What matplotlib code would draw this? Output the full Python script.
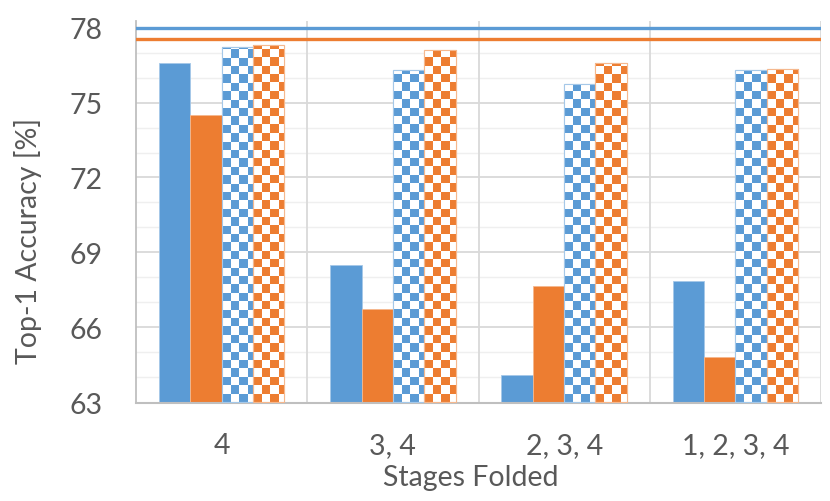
import numpy as np
import matplotlib
matplotlib.use("Agg")
import matplotlib.pyplot as plt

plt.rcParams["font.family"] = ["Lato", "DejaVu Sans"]

# data
stages = ["4", "3, 4", "2, 3, 4", "1, 2, 3, 4"]
blue_solid = [76.6, 68.5, 64.1, 67.85]
orange_solid = [74.5, 66.75, 67.65, 64.8]
blue_check = [77.2, 76.3, 75.75, 76.3]
orange_check = [77.3, 77.1, 76.6, 76.35]
blue_ref = 77.97
orange_ref = 77.55

BLUE = "#5B9BD5"
ORANGE = "#ED7D31"
TXT = "#595959"
FS = 20.5

fig = plt.figure(figsize=(8.30, 5.02), dpi=100)
ax = fig.add_axes([136 / 830, 1 - 403.5 / 502, (821 - 136) / 830, (403.5 - 22) / 502])
ymin, ymax = 63, 78.26
ax.set_xlim(-0.5, 3.5)
ax.set_ylim(ymin, ymax)

# grid
for y in range(64, 79):
    major = (y - 63) % 3 == 0
    ax.axhline(y, color="#D9D9D9" if major else "#EFEFEF", lw=1.3 if major else 1.0, zorder=0)
for xb in [0.5, 1.5, 2.5, 3.5]:
    ax.axvline(xb, color="#D9D9D9", lw=1.3, zorder=0)

x = np.arange(len(stages))
w = 0.183

def lighter(c, f=0.45):
    rgb = np.array(matplotlib.colors.to_rgb(c))
    return tuple(rgb + (1 - rgb) * f)

# solid bars
ax.bar(x - 1.5 * w, np.array(blue_solid) - ymin, w, bottom=ymin, color=BLUE,
       edgecolor=lighter(BLUE), lw=0.6, zorder=2)
ax.bar(x - 0.5 * w, np.array(orange_solid) - ymin, w, bottom=ymin, color=ORANGE,
       edgecolor=lighter(ORANGE), lw=0.6, zorder=2)

# checkerboard bars: white bar + checker image clipped to it
pos = ax.get_position()
px_per_x = pos.width * fig.get_figwidth() * fig.dpi / 4.0
px_per_y = pos.height * fig.get_figheight() * fig.dpi / (ymax - ymin)
cell = 8.4
dx = cell / px_per_x
dy = cell / px_per_y

def checker_bars(offset, vals, color):
    bars = ax.bar(x + offset, np.array(vals) - ymin, w, bottom=ymin, color="white",
                  edgecolor=lighter(color), lw=0.8, zorder=2)
    rgb = np.array(matplotlib.colors.to_rgb(color))
    for b in bars:
        x0 = b.get_x()
        ncol = int(np.ceil(w / dx)) + 1
        nrow = int(np.ceil(b.get_height() / dy)) + 1
        ii, jj = np.meshgrid(np.arange(nrow), np.arange(ncol), indexing="ij")
        img = np.ones((nrow, ncol, 3))
        img[(ii + jj) % 2 == 0] = rgb
        im = ax.imshow(img, extent=[x0, x0 + ncol * dx, ymin, ymin + nrow * dy],
                       origin="lower", aspect="auto", interpolation="nearest", zorder=2.5)
        im.set_clip_path(b)
    ax.bar(x + offset, np.array(vals) - ymin, w, bottom=ymin, facecolor="none",
           edgecolor=lighter(color), lw=0.8, zorder=2.6)

checker_bars(0.5 * w, blue_check, BLUE)
checker_bars(1.5 * w, orange_check, ORANGE)
ax.set_xlim(-0.5, 3.5)
ax.set_ylim(ymin, ymax)

# reference lines
ax.axhline(blue_ref, color=BLUE, lw=2.4, zorder=3)
ax.axhline(orange_ref, color=ORANGE, lw=2.4, zorder=3)

for s in ["top", "right"]:
    ax.spines[s].set_visible(False)
ax.spines["left"].set_color("#BFBFBF")
ax.spines["bottom"].set_color("#BFBFBF")
ax.spines["left"].set_linewidth(1.3)
ax.spines["bottom"].set_linewidth(1.5)

ax.set_xticks(x)
ax.set_xticklabels(stages)
ax.set_yticks([63, 66, 69, 72, 75, 78])
ax.tick_params(axis="both", length=0, labelsize=FS, colors=TXT)
ax.tick_params(axis="y", pad=24)
ax.tick_params(axis="x", pad=21)
ax.set_xlabel("Stages Folded", fontsize=FS, color=TXT, va="center")
ax.xaxis.set_label_coords((471 - 136) / 685, (403.5 - 478) / 381.5)
ax.set_ylabel("Top-1 Accuracy [%]", fontsize=FS, color=TXT, va="center")
ax.yaxis.set_label_coords((28 - 136) / 685, (403.5 - 241) / 381.5)

fig.savefig("out.png", dpi=100)
